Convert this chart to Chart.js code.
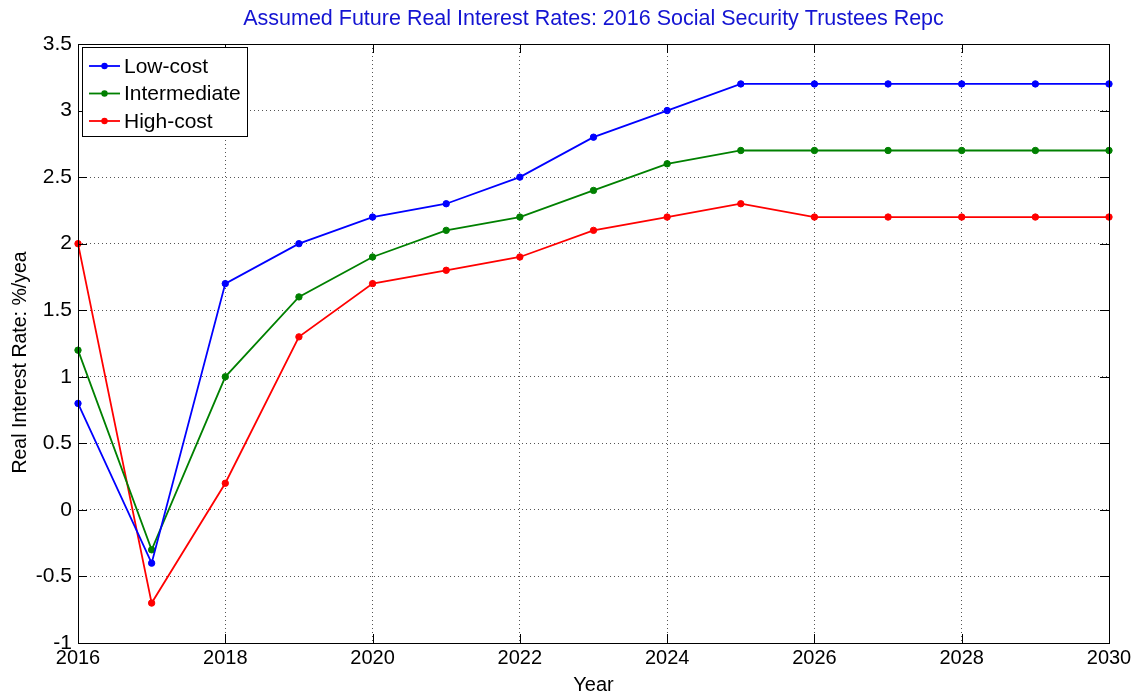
<!DOCTYPE html>
<html>
<head>
<meta charset="utf-8">
<script src="https://cdn.jsdelivr.net/npm/chart.js@4/dist/chart.umd.min.js"></script>
<style>
  html, body { margin: 0; padding: 0; background: #fff; }
  canvas { display: block; }
</style>
</head>
<body>
<canvas id="c" width="1138" height="698"></canvas>
<script>
// Projection years
const years = [2016, 2017, 2018, 2019, 2020, 2021, 2022, 2023, 2024, 2025, 2026, 2027, 2028, 2029, 2030];

// Real interest rate assumptions, %/year
const lowCost      = [0.8, -0.4, 1.7, 2.0, 2.2, 2.3, 2.5, 2.8, 3.0, 3.2, 3.2, 3.2, 3.2, 3.2, 3.2];
const intermediate = [1.2, -0.3, 1.0, 1.6, 1.9, 2.1, 2.2, 2.4, 2.6, 2.7, 2.7, 2.7, 2.7, 2.7, 2.7];
const highCost     = [2.0, -0.7, 0.2, 1.3, 1.7, 1.8, 1.9, 2.1, 2.2, 2.3, 2.2, 2.2, 2.2, 2.2, 2.2];

// Axis tick values
const xTicks = [2016, 2018, 2020, 2022, 2024, 2026, 2028, 2030];
const yTicks = [-1, -0.5, 0, 0.5, 1, 1.5, 2, 2.5, 3, 3.5];

const seriesNames = ['Low-cost', 'Intermediate', 'High-cost'];
const seriesColors = ['#0000ff', '#008000', '#ff0000'];

const toPoints = vals => years.map((yr, i) => ({ x: yr, y: vals[i] }));

const BASE_FONT = "'Liberation Sans', Arial, Helvetica, sans-serif";

// Box around the plot with inward tick marks on all four sides
const framePlugin = {
  id: 'frame',
  afterDraw(chart) {
    const { ctx, chartArea: a, scales } = chart;
    const len = 9;
    ctx.save();
    ctx.strokeStyle = '#000';
    ctx.lineWidth = 1;
    ctx.beginPath();
    xTicks.forEach(v => {
      const px = Math.round(scales.x.getPixelForValue(v)) + 0.5;
      ctx.moveTo(px, a.bottom); ctx.lineTo(px, a.bottom - len);
      ctx.moveTo(px, a.top); ctx.lineTo(px, a.top + len);
    });
    yTicks.forEach(v => {
      const py = Math.round(scales.y.getPixelForValue(v)) + 0.5;
      ctx.moveTo(a.left, py); ctx.lineTo(a.left + len, py);
      ctx.moveTo(a.right, py); ctx.lineTo(a.right - len, py);
    });
    ctx.stroke();
    ctx.strokeRect(Math.round(a.left) + 0.5, Math.round(a.top) + 0.5,
                   Math.round(a.right - a.left), Math.round(a.bottom - a.top));
    ctx.restore();
  }
};

// Boxed legend in the upper-left corner of the plot
const boxLegendPlugin = {
  id: 'boxLegend',
  afterDraw(chart) {
    const { ctx, chartArea: a } = chart;
    const x0 = a.left + 4, y0 = a.top + 3;
    const w = 165, h = 89, rowH = 27.5, firstRow = 19;
    ctx.save();
    ctx.fillStyle = '#fff';
    ctx.fillRect(x0, y0, w, h);
    ctx.strokeStyle = '#000';
    ctx.lineWidth = 1;
    ctx.strokeRect(Math.round(x0) + 0.5, Math.round(y0) + 0.5, w, h);
    ctx.font = "21px " + BASE_FONT;
    ctx.textBaseline = 'middle';
    chart.data.datasets.forEach((ds, i) => {
      const cy = y0 + firstRow + i * rowH;
      ctx.strokeStyle = ds.borderColor;
      ctx.lineWidth = 1.8;
      ctx.beginPath();
      ctx.moveTo(x0 + 7, cy);
      ctx.lineTo(x0 + 38, cy);
      ctx.stroke();
      ctx.fillStyle = ds.borderColor;
      ctx.beginPath();
      ctx.arc(x0 + 22.5, cy, 3.2, 0, Math.PI * 2);
      ctx.fill();
      ctx.fillStyle = '#000';
      ctx.fillText(ds.label, x0 + 42, cy + 1);
    });
    ctx.restore();
  }
};

const datasets = [lowCost, intermediate, highCost].map((vals, i) => ({
  label: seriesNames[i],
  data: toPoints(vals),
  borderColor: seriesColors[i],
  backgroundColor: seriesColors[i],
  borderWidth: 1.8,
  pointRadius: 3.2,
  pointStyle: 'circle',
  pointBorderWidth: 1,
  tension: 0,
  clip: false
}));

const gridStyle = {
  color: '#555',
  lineWidth: 1,
  drawTicks: false,
  borderDash: [1, 3]
};

new Chart(document.getElementById('c'), {
  type: 'line',
  data: { datasets },
  options: {
    responsive: false,
    animation: false,
    devicePixelRatio: 1,
    layout: { padding: { left: 0, right: 29, top: 0, bottom: 0 } },
    plugins: {
      legend: { display: false },
      tooltip: { enabled: false },
      title: {
        display: true,
        fullSize: false, // centre the title over the plot area
        text: 'Assumed Future Real Interest Rates: 2016 Social Security Trustees Repc',
        color: '#1414d2',
        font: { family: BASE_FONT, size: 21.5, weight: 'normal', lineHeight: 1.2 },
        padding: { top: 6, bottom: 12.2 }
      }
    },
    scales: {
      x: {
        type: 'linear',
        min: years[0],
        max: years[years.length - 1],
        afterFit: s => { s.height = 55; },
        afterBuildTicks: s => { s.ticks = xTicks.map(v => ({ value: v })); },
        ticks: {
          color: '#000',
          padding: 3,
          maxRotation: 0,
          autoSkip: false,
          font: { family: BASE_FONT, size: 20 },
          callback: v => String(v)
        },
        grid: gridStyle,
        border: { display: false, dash: [1, 3] },
        title: {
          display: true,
          text: 'Year',
          color: '#000',
          font: { family: BASE_FONT, size: 20 },
          padding: { top: 0, bottom: 1 }
        }
      },
      y: {
        type: 'linear',
        min: yTicks[0],
        max: yTicks[yTicks.length - 1],
        afterFit: s => { s.width = 78; },
        afterBuildTicks: s => { s.ticks = yTicks.map(v => ({ value: v })); },
        ticks: {
          color: '#000',
          padding: 6,
          autoSkip: false,
          font: { family: BASE_FONT, size: 21 },
          callback: v => String(v)
        },
        grid: gridStyle,
        border: { display: false, dash: [1, 3] },
        title: {
          display: true,
          // trailing spaces keep the label in its lower-centred spot along the axis
          text: 'Real Interest Rate: %/yea       ',
          color: '#000',
          font: { family: BASE_FONT, size: 19.5 },
          padding: { top: 9, bottom: 0 }
        }
      }
    }
  },
  plugins: [framePlugin, boxLegendPlugin]
});
</script>
</body>
</html>
